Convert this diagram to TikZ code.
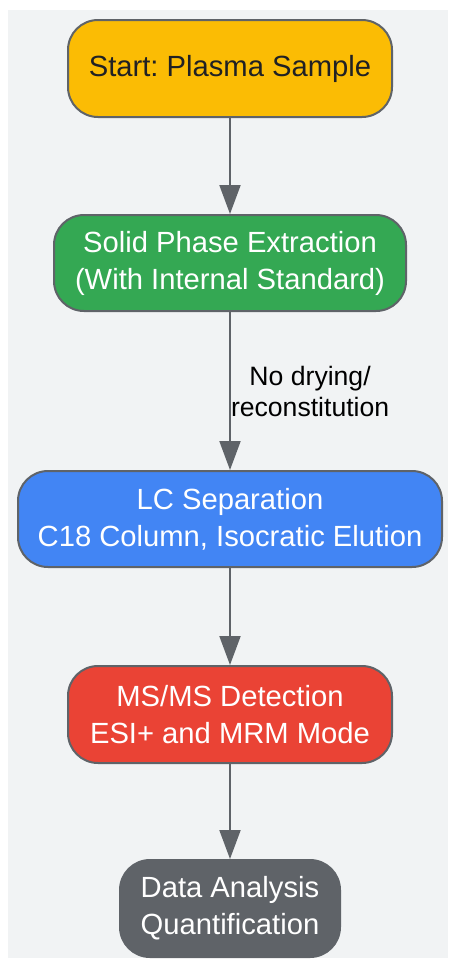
\documentclass[tikz,border=0pt]{standalone}
\usepackage{fontspec}
\setmainfont{Liberation Sans}
\usetikzlibrary{arrows.meta}
\definecolor{cyellow}{HTML}{FBBC04}
\definecolor{cgreen}{HTML}{34A853}
\definecolor{cblue}{HTML}{4285F4}
\definecolor{cred}{HTML}{EA4335}
\definecolor{cgray}{HTML}{5F6368}
\definecolor{cbg}{HTML}{F1F3F4}
\definecolor{cdark}{HTML}{202124}
\frenchspacing
\begin{document}
\begin{tikzpicture}[x=1pt,y=-1pt,
  box/.style={draw=cgray, line width=2pt, rounded corners=30pt, align=center,
    inner sep=0pt, text=white, font=\fontsize{29.2}{37}\selectfont},
  conn/.style={draw=cgray, line width=2pt, -{Triangle[width=21pt,length=29pt]}},
  lbl/.style={anchor=west, inner sep=0pt, align=center, text=black,
    font=\fontsize{26.6}{31}\selectfont}]
\useasboundingbox (0,0) rectangle (448,959);
\fill[cbg] (8,10) rectangle (448,958);
\node[box, fill=cyellow, text=cdark, minimum width=324pt, minimum height=97pt] (start) at (230,68.5) {Start: Plasma Sample};
\node[box, fill=cgreen, minimum width=352pt, minimum height=96pt] (spe) at (230,263) {Solid Phase Extraction\\(With Internal Standard)};
\node[box, fill=cblue, minimum width=424pt, minimum height=96pt] (lc) at (230,519) {LC Separation\\C18 Column, Isocratic Elution};
\node[box, fill=cred, minimum width=324pt, minimum height=97pt] (ms) at (230,714.5) {MS/MS Detection\\ESI+ and MRM Mode};
\node[box, fill=cgray, draw=cgray, minimum width=220pt, minimum height=97pt] (data) at (230,908.5) {Data Analysis\\Quantification};
\draw[conn] (start) -- (spe);
\draw[conn] (spe) -- node[lbl] (lab) {No drying/\\reconstitution} (lc);
\draw[conn] (lc) -- (ms);
\draw[conn] (ms) -- (data);
\end{tikzpicture}
\end{document}
